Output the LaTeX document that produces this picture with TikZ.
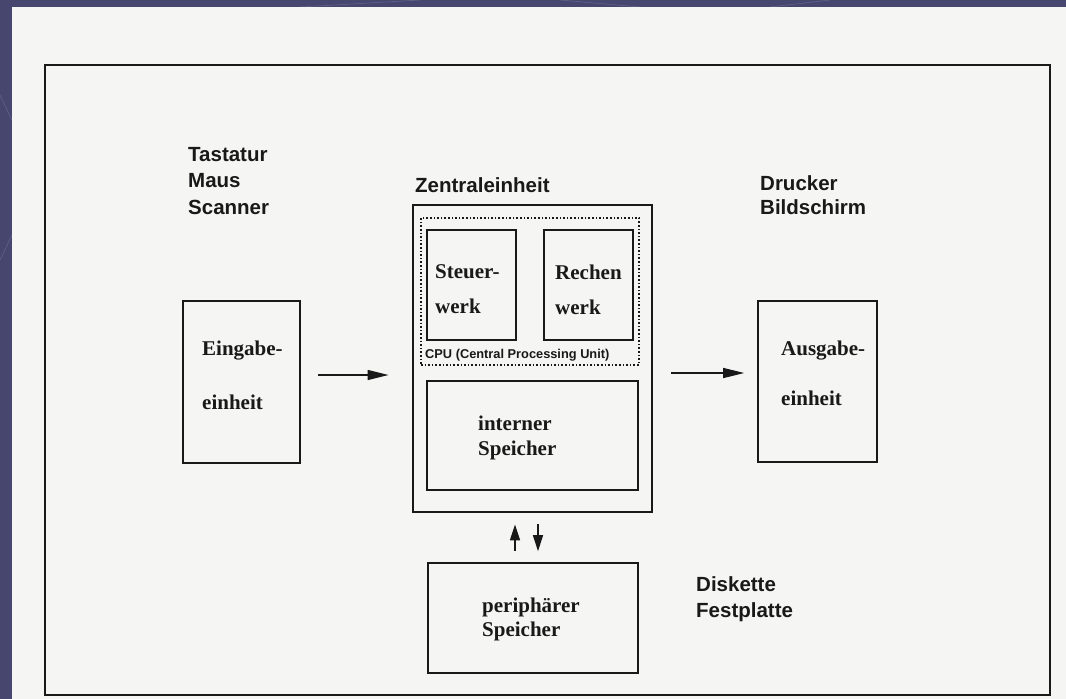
\documentclass[tikz,border=0pt]{standalone}
\usepackage{fontspec}
\setmainfont{Liberation Serif}
\setsansfont{Liberation Sans}
\usetikzlibrary{arrows.meta}
\usetikzlibrary{positioning}

\definecolor{slidebg}{RGB}{70,70,110}
\definecolor{slideline}{RGB}{92,92,132}
\definecolor{paper}{RGB}{245,245,243}
\definecolor{ink}{RGB}{25,25,25}

\tikzset{
    unitbox/.style={draw=ink, line width=1.6pt, inner sep=0pt},
    devtext/.style={font=\sffamily\bfseries\fontsize{20.5}{26.5}\selectfont, text=ink, align=left, anchor=west, inner sep=0pt},
    unittext/.style={font=\bfseries\fontsize{21}{25}\selectfont, text=ink, align=left, anchor=west, inner sep=0pt},
    flow/.style={draw=ink, line width=1.3pt, -{Triangle[length=21pt,width=10pt]}},
    updown/.style={draw=ink, line width=1.5pt, -{Triangle[length=16pt,width=10pt]}, shorten <=11pt, shorten >=11pt},
}

\begin{document}
\begin{tikzpicture}[x=1pt,y=-1pt]
    \useasboundingbox (0,0) rectangle (1066,699);
    \fill[slidebg] (0,0) rectangle (1066,699);
    % faint slide decoration
    \draw[slideline, line width=0.8pt] (300,7) -- (420,0);
    \draw[slideline, line width=0.8pt] (560,0) -- (640,7);
    \draw[slideline, line width=0.8pt] (770,7) -- (830,0);
    \draw[slideline, line width=0.8pt] (0,95) -- (12,120);
    \draw[slideline, line width=0.8pt] (0,260) -- (12,235);
    \fill[paper] (12,7) rectangle (1066,699);

    % frame
    \node[unitbox, line width=2.2pt, minimum width=1005pt, minimum height=630pt] (frame) at (547.5,380) {};

    % units
    \node[unitbox, minimum width=117pt, minimum height=162pt] (eingabe) at (241.5,382) {};
    \node[unitbox, minimum width=119pt, minimum height=161pt] (ausgabe) at (817.5,381.5) {};
    \node[unitbox, line width=2.8pt, minimum width=239pt, minimum height=307pt] (zentral) at (532.5,358.5) {};
    \node[unitbox, dotted, line width=1.2pt, minimum width=218pt, minimum height=147pt] (cpu) at (530,291.5) {};
    \node[unitbox, minimum width=89pt, minimum height=110pt] (steuer) at (471.5,285) {};
    \node[unitbox, minimum width=89pt, minimum height=110pt] (rechen) at (588.5,285) {};
    \node[unitbox, minimum width=211pt, minimum height=109pt] (intern) at (532.5,435.5) {};
    \node[unitbox, minimum width=210pt, minimum height=110pt] (periph) at (533,618) {};

    % texts
    \node[unittext, font=\bfseries\fontsize{21}{54}\selectfont] (eingabetext) at (202,375) {Eingabe-\\einheit};
    \node[unittext, font=\bfseries\fontsize{21}{50}\selectfont] (ausgabetext) at (781,373) {Ausgabe-\\einheit};
    \node[unittext, font=\bfseries\fontsize{21}{35}\selectfont] (steuertext) at (435,289.5) {Steuer-\\werk};
    \node[unittext, font=\bfseries\fontsize{21}{35}\selectfont] (rechentext) at (555,289.5) {Rechen\\werk};
    \node[unittext] (interntext) at (478,437.5) {interner\\Speicher};
    \node[unittext, font=\bfseries\fontsize{21}{24}\selectfont] (periphtext) at (482,619) {periphärer\\Speicher};
    \node[devtext, font=\sffamily\bfseries\fontsize{12.8}{16}\selectfont] (cputext) at (425,355) {CPU (Central Processing Unit)};

    \node[devtext] (eingeraete) at (188,181) {Tastatur\\Maus\\Scanner};
    \node[devtext] (zentraltext) at (415,185) {Zentraleinheit};
    \node[devtext, font=\sffamily\bfseries\fontsize{20.5}{24}\selectfont] (ausgeraete) at (760,195) {Drucker\\Bildschirm};
    \node[devtext] (speichergeraete) at (696,599) {Diskette\\Festplatte};

    % data flow
    \draw[flow, shorten <=17pt, shorten >=23pt] ([yshift=7pt]eingabe.east) -- ([yshift=7pt]eingabe.east -| zentral.west);
    \draw[flow, shorten <=18pt, shorten >=13pt] ([yshift=8.5pt]ausgabe.west -| zentral.east) -- ([yshift=8.5pt]ausgabe.west);
    \draw[updown] ([xshift=-18pt]periph.north) -- ([xshift=-18pt]periph.north |- zentral.south);
    \draw[updown] ([xshift=5pt]periph.north |- zentral.south) -- ([xshift=5pt]periph.north);
\end{tikzpicture}
\end{document}
